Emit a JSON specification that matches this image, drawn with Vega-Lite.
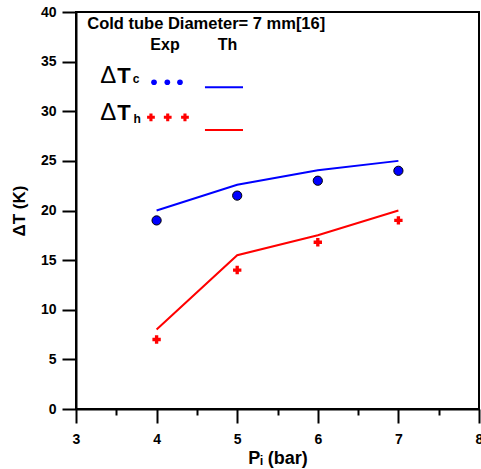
{
  "$schema": "https://vega.github.io/schema/vega-lite/v6.json",
  "width": 403,
  "height": 397,
  "autosize": {"type": "none"},
  "padding": {"left": 76, "top": 12, "right": 2, "bottom": 60},
  "background": "white",
  "config": {"view": {"stroke": "black", "strokeWidth": 2}, "font": "Liberation Sans"},
  "data": {"values": [
    {"P": 4, "dT": 19.0, "quantity": "ΔTc", "source": "Exp"},
    {"P": 5, "dT": 21.5, "quantity": "ΔTc", "source": "Exp"},
    {"P": 6, "dT": 23.0, "quantity": "ΔTc", "source": "Exp"},
    {"P": 7, "dT": 24.0, "quantity": "ΔTc", "source": "Exp"},
    {"P": 4, "dT": 20.0, "quantity": "ΔTc", "source": "Th"},
    {"P": 5, "dT": 22.6, "quantity": "ΔTc", "source": "Th"},
    {"P": 6, "dT": 24.05, "quantity": "ΔTc", "source": "Th"},
    {"P": 7, "dT": 25.0, "quantity": "ΔTc", "source": "Th"},
    {"P": 4, "dT": 7.0, "quantity": "ΔTh", "source": "Exp"},
    {"P": 5, "dT": 14.0, "quantity": "ΔTh", "source": "Exp"},
    {"P": 6, "dT": 16.8, "quantity": "ΔTh", "source": "Exp"},
    {"P": 7, "dT": 19.0, "quantity": "ΔTh", "source": "Exp"},
    {"P": 4, "dT": 8.0, "quantity": "ΔTh", "source": "Th"},
    {"P": 5, "dT": 15.5, "quantity": "ΔTh", "source": "Th"},
    {"P": 6, "dT": 17.5, "quantity": "ΔTh", "source": "Th"},
    {"P": 7, "dT": 20.0, "quantity": "ΔTh", "source": "Th"}
  ]},
  "layer": [
    {
      "transform": [{"filter": "datum.source === 'Th'"}],
      "mark": {"type": "line", "strokeWidth": 2},
      "encoding": {
        "x": {
          "field": "P", "type": "quantitative",
          "scale": {"domain": [3, 8], "nice": false, "zero": false},
          "axis": {
            "title": "Pᵢ (bar)",
            "values": [3, 3.5, 4, 4.5, 5, 5.5, 6, 6.5, 7, 7.5, 8],
            "labelExpr": "datum.value % 1 === 0 ? format(datum.value, 'd') : ''",
            "grid": false,
            "domainColor": "black", "domainWidth": 2,
            "tickColor": "black", "tickWidth": 2,
            "tickSize": {"condition": {"test": "datum.value % 1 !== 0", "value": 6}, "value": 14},
            "labelFont": "Liberation Sans", "labelFontWeight": "bold", "labelFontSize": 14, "labelColor": "black",
            "labelPadding": 9, "labelFlush": false,
            "titleFont": "Liberation Sans", "titleFontWeight": "bold", "titleFontSize": 18, "titleColor": "black",
            "titlePadding": 3
          }
        },
        "y": {
          "field": "dT", "type": "quantitative",
          "scale": {"domain": [0, 40], "nice": false},
          "axis": {
            "title": "ΔT (K)",
            "values": [0, 2.5, 5, 7.5, 10, 12.5, 15, 17.5, 20, 22.5, 25, 27.5, 30, 32.5, 35, 37.5, 40],
            "labelExpr": "datum.value % 5 === 0 ? format(datum.value, 'd') : ''",
            "grid": false,
            "domainColor": "black", "domainWidth": 2,
            "tickColor": "black", "tickWidth": 2,
            "tickSize": {"condition": {"test": "datum.value % 5 !== 0", "value": 7}, "value": 14},
            "labelFont": "Liberation Sans", "labelFontWeight": "bold", "labelFontSize": 14, "labelColor": "black",
            "labelPadding": 6, "labelFlush": false,
            "titleFont": "Liberation Sans", "titleFontWeight": "bold", "titleFontSize": 17, "titleColor": "black",
            "titlePadding": 12
          }
        },
        "color": {"field": "quantity", "type": "nominal", "scale": {"domain": ["ΔTc", "ΔTh"], "range": ["#0000ff", "#ff0000"]}, "legend": null},
        "detail": {"field": "quantity"}
      }
    },
    {
      "transform": [{"filter": "datum.source === 'Exp' && datum.quantity === 'ΔTc'"}],
      "mark": {"type": "point", "shape": "circle", "filled": true, "fill": "#0000ff", "stroke": "black", "strokeWidth": 1, "size": 85, "opacity": 1},
      "encoding": {
        "x": {"field": "P", "type": "quantitative"},
        "y": {"field": "dT", "type": "quantitative"}
      }
    },
    {
      "transform": [{"filter": "datum.source === 'Exp' && datum.quantity === 'ΔTh'"}],
      "mark": {"type": "point", "shape": "cross", "filled": true, "fill": "#ff0000", "strokeWidth": 0, "size": 70, "opacity": 1},
      "encoding": {
        "x": {"field": "P", "type": "quantitative"},
        "y": {"field": "dT", "type": "quantitative"}
      }
    },
    {
      "data": {"values": [{"x": 3.14, "y": 38.26, "label": "Cold tube Diameter= 7 mm[16]"}]},
      "mark": {"type": "text", "align": "left", "baseline": "alphabetic", "fontWeight": "bold", "fontSize": 16.5, "font": "Liberation Sans", "color": "black"},
      "encoding": {
        "x": {"field": "x", "type": "quantitative"},
        "y": {"field": "y", "type": "quantitative"},
        "text": {"field": "label"}
      }
    },
    {
      "data": {"values": [{"x": 4.104, "y": 36.17, "label": "Exp"}, {"x": 4.879, "y": 36.17, "label": "Th"}]},
      "mark": {"type": "text", "align": "center", "baseline": "alphabetic", "fontWeight": "bold", "fontSize": 16, "font": "Liberation Sans", "color": "black"},
      "encoding": {
        "x": {"field": "x", "type": "quantitative"},
        "y": {"field": "y", "type": "quantitative"},
        "text": {"field": "label"}
      }
    },
    {
      "data": {"values": [{"x": 3.4, "y": 32.82, "label": "Δ"}, {"x": 3.4, "y": 29.12, "label": "Δ"}]},
      "mark": {"type": "text", "align": "center", "baseline": "alphabetic", "fontWeight": "normal", "fontSize": 24, "font": "Liberation Sans", "color": "black"},
      "encoding": {
        "x": {"field": "x", "type": "quantitative"},
        "y": {"field": "y", "type": "quantitative"},
        "text": {"field": "label"}
      }
    },
    {
      "data": {"values": [{"x": 3.596, "y": 32.82, "label": "T"}, {"x": 3.596, "y": 29.12, "label": "T"}]},
      "mark": {"type": "text", "align": "center", "baseline": "alphabetic", "fontWeight": "bold", "fontSize": 22, "font": "Liberation Sans", "color": "black"},
      "encoding": {
        "x": {"field": "x", "type": "quantitative"},
        "y": {"field": "y", "type": "quantitative"},
        "text": {"field": "label"}
      }
    },
    {
      "data": {"values": [{"x": 3.745, "y": 32.82, "label": "c"}, {"x": 3.76, "y": 28.79, "label": "h"}]},
      "mark": {"type": "text", "align": "center", "baseline": "alphabetic", "fontWeight": "bold", "fontSize": 12, "font": "Liberation Sans", "color": "black"},
      "encoding": {
        "x": {"field": "x", "type": "quantitative"},
        "y": {"field": "y", "type": "quantitative"},
        "text": {"field": "label"}
      }
    },
    {
      "data": {"values": [{"x": 3.968, "y": 32.92}, {"x": 4.133, "y": 32.92}, {"x": 4.29, "y": 32.92}]},
      "mark": {"type": "point", "shape": "circle", "filled": true, "fill": "#0000ff", "strokeWidth": 0, "size": 32, "opacity": 1},
      "encoding": {
        "x": {"field": "x", "type": "quantitative"},
        "y": {"field": "y", "type": "quantitative"}
      }
    },
    {
      "data": {"values": [{"x": 3.93, "y": 29.39}, {"x": 4.138, "y": 29.39}, {"x": 4.352, "y": 29.39}]},
      "mark": {"type": "point", "shape": "cross", "filled": true, "fill": "#ff0000", "strokeWidth": 0, "size": 60, "opacity": 1},
      "encoding": {
        "x": {"field": "x", "type": "quantitative"},
        "y": {"field": "y", "type": "quantitative"}
      }
    },
    {
      "data": {"values": [{"x": 4.6, "x2": 5.072, "y": 32.41, "quantity": "ΔTc"}, {"x": 4.6, "x2": 5.072, "y": 28.11, "quantity": "ΔTh"}]},
      "mark": {"type": "rule", "strokeWidth": 2},
      "encoding": {
        "x": {"field": "x", "type": "quantitative"},
        "x2": {"field": "x2"},
        "y": {"field": "y", "type": "quantitative"},
        "color": {"field": "quantity", "type": "nominal"}
      }
    }
  ]
}
